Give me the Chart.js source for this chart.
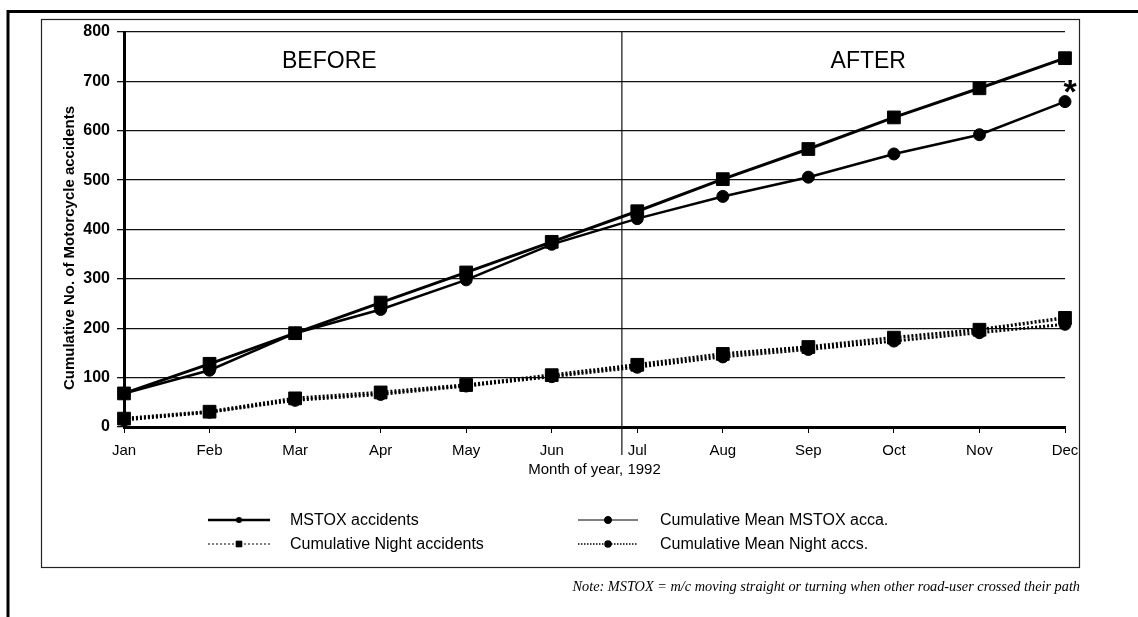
<!DOCTYPE html>
<html>
<head>
<meta charset="utf-8">
<title>Cumulative motorcycle accidents, 1992</title>
<script src="https://cdn.jsdelivr.net/npm/chart.js@4.4.1/dist/chart.umd.min.js"></script>
<style>
  html, body { margin: 0; padding: 0; background: #fff; }
  #wrap { width: 1138px; height: 617px; }
</style>
</head>
<body>
<div id="wrap"><canvas id="accChart" width="1138" height="617"></canvas></div>
<script>
const months = ['Jan', 'Feb', 'Mar', 'Apr', 'May', 'Jun', 'Jul', 'Aug', 'Sep', 'Oct', 'Nov', 'Dec'];
const yTicks = [0, 100, 200, 300, 400, 500, 600, 700, 800];

const mstoxAccidents = [68, 128, 190, 252, 313, 375, 437, 502, 563, 627, 686, 747];
const meanMstox = [68, 115, 190, 238, 298, 370, 422, 467, 506, 553, 592, 659];
const nightAccidents = [17, 31, 58, 70, 85, 105, 126, 148, 162, 181, 197, 221];
const meanNight = [14, 30, 54, 66, 83, 102, 121, 142, 157, 174, 191, 208];

// divider between the BEFORE and AFTER periods, as a month index
const changeAt = 5.82;

const FONT = "'Liberation Sans', Arial, sans-serif";

// page furniture: frames, period labels, axis title, legend, footnote
const furniture = {
    id: 'furniture',
    beforeDatasetsDraw(chart) {
        const ctx = chart.ctx;
        const x = chart.scales.x.getPixelForValue(changeAt);
        ctx.save();
        ctx.strokeStyle = '#111';
        ctx.lineWidth = 1.2;
        ctx.beginPath();
        ctx.moveTo(x, chart.chartArea.top);
        ctx.lineTo(x, chart.chartArea.bottom + 28);
        ctx.stroke();
        ctx.restore();
    },
    afterDraw(chart) {
        const ctx = chart.ctx;
        const area = chart.chartArea;
        const xs = chart.scales.x;
        ctx.save();

        // outer heavy rules
        ctx.strokeStyle = '#000';
        ctx.lineWidth = 3;
        ctx.beginPath();
        ctx.moveTo(8, 617);
        ctx.lineTo(8, 11.5);
        ctx.lineTo(1138, 11.5);
        ctx.stroke();

        // inner thin box
        ctx.lineWidth = 1.2;
        ctx.strokeStyle = '#222';
        ctx.strokeRect(41.5, 19.5, 1038, 548);

        // period labels
        ctx.fillStyle = '#000';
        ctx.textAlign = 'center';
        ctx.textBaseline = 'middle';
        ctx.font = '23px ' + FONT;
        ctx.fillText('BEFORE', xs.getPixelForValue(2.4), 62);
        ctx.fillText('AFTER', xs.getPixelForValue(8.7), 62);

        // significance mark at the end of the mean line
        ctx.font = 'bold 34px ' + FONT;
        ctx.textBaseline = 'alphabetic';
        ctx.fillText('*', 1070, 103);

        // axis titles
        ctx.font = '15px ' + FONT;
        ctx.textBaseline = 'middle';
        ctx.fillText('Month of year, 1992', (area.left + area.right) / 2, 470);

        ctx.save();
        ctx.translate(70, 248);
        ctx.rotate(-Math.PI / 2);
        ctx.font = 'bold 15px ' + FONT;
        ctx.fillText('Cumulative No. of Motorcycle accidents', 0, 0);
        ctx.restore();

        // legend, two columns by two rows
        const ds = chart.data.datasets;
        const slots = [
            { d: ds[0], x: 208, y: 520, w: 62, lw: 2.5, dash: [], mark: 'circle', r: 1.8 },
            { d: ds[1], x: 578, y: 520, w: 60, lw: 1, dash: [], mark: 'circle', r: 3.5 },
            { d: ds[2], x: 208, y: 544, w: 62, lw: 1, dash: [2, 2], mark: 'rect', r: 4 },
            { d: ds[3], x: 578, y: 544, w: 60, lw: 1.5, dash: [1.5, 1.5], mark: 'circle', r: 3 }
        ];
        ctx.font = '16px ' + FONT;
        ctx.textAlign = 'left';
        slots.forEach(s => {
            ctx.strokeStyle = '#000';
            ctx.lineWidth = s.lw;
            ctx.setLineDash(s.dash);
            ctx.beginPath();
            ctx.moveTo(s.x, s.y);
            ctx.lineTo(s.x + s.w, s.y);
            ctx.stroke();
            ctx.setLineDash([]);
            Chart.helpers.drawPoint(ctx, { pointStyle: s.mark, radius: s.r, borderWidth: 1 }, s.x + s.w / 2, s.y);
            ctx.fill();
            ctx.fillText(s.d.label, s.x + 82, s.y + 1);
        });

        // footnote
        ctx.font = 'italic 14.3px "Liberation Serif", "Times New Roman", serif';
        ctx.textAlign = 'right';
        ctx.fillText('Note: MSTOX = m/c moving straight or turning when other road-user crossed their path', 1080, 587);

        ctx.restore();
    }
};

function series(label, data, style, dashed, width) {
    return {
        label: label,
        data: data,
        borderColor: '#000',
        backgroundColor: '#000',
        borderWidth: width,
        borderDash: dashed ? [2, 2] : [],
        pointStyle: style,
        pointRadius: style === 'rect' ? 9 : 6,
        pointBorderWidth: 1,
        pointBackgroundColor: '#000',
        pointBorderColor: '#000',
        tension: 0,
        fill: false,
        clip: false
    };
}

new Chart(document.getElementById('accChart'), {
    type: 'line',
    data: {
        labels: months,
        datasets: [
            series('MSTOX accidents', mstoxAccidents, 'rect', false, 3),
            series('Cumulative Mean MSTOX acca.', meanMstox, 'circle', false, 2.5),
            series('Cumulative Night accidents', nightAccidents, 'rect', true, 3.5),
            series('Cumulative Mean Night accs.', meanNight, 'circle', true, 3)
        ]
    },
    options: {
        responsive: false,
        animation: false,
        devicePixelRatio: 1,
        layout: { padding: { top: 32, right: 73, left: 0, bottom: 0 } },
        plugins: {
            legend: { display: false },
            tooltip: { enabled: false }
        },
        scales: {
            x: {
                type: 'category',
                offset: false,
                grid: { drawOnChartArea: false, drawTicks: true, tickLength: 6, color: '#000', lineWidth: 1 },
                border: { display: true, color: '#000', width: 3 },
                ticks: {
                    color: '#000',
                    padding: 9,
                    maxRotation: 0,
                    autoSkip: false,
                    font: { family: FONT, size: 15 }
                },
                afterFit(scale) { scale.height = 190; }
            },
            y: {
                min: 0,
                max: 800,
                afterBuildTicks(scale) { scale.ticks = yTicks.map(v => ({ value: v })); },
                grid: { color: '#111', lineWidth: 1.3, tickLength: 7 },
                border: { display: true, color: '#000', width: 3 },
                ticks: {
                    color: '#000',
                    padding: 7,
                    font: { family: FONT, size: 16, weight: 'bold' }
                },
                afterFit(scale) { scale.width = 124; }
            }
        }
    },
    plugins: [furniture]
});
</script>
</body>
</html>
